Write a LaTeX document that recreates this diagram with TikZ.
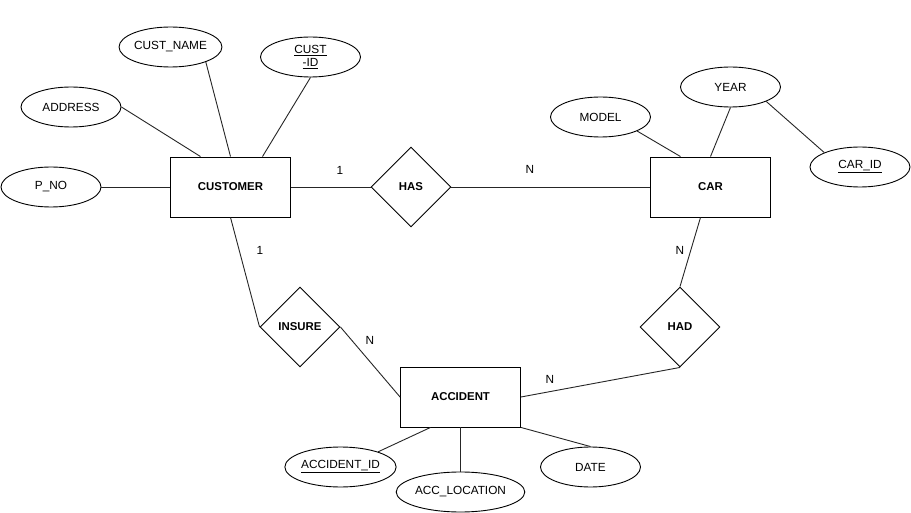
\documentclass[tikz,border=0pt]{standalone}
\usepackage{fontspec}
\setmainfont{Liberation Sans}
\usetikzlibrary{shapes.geometric}
\begin{document}
\begin{tikzpicture}[x=1pt,y=-1pt,
  every node/.style={font=\fontsize{11.8}{13.5}\selectfont},
  entity/.style={draw=black,line width=0.9pt,minimum width=120pt,minimum height=60pt,inner sep=0pt,font=\fontsize{11.4}{13}\selectfont\bfseries},
  rel/.style={draw=black,line width=0.9pt,diamond,minimum width=80pt,minimum height=80pt,inner sep=0pt,aspect=1,font=\fontsize{11.4}{13}\selectfont\bfseries},
  attr/.style={draw=black,line width=0.9pt,ellipse,minimum width=100pt,minimum height=40pt,inner sep=0pt},
  conn/.style={draw=black!85,line width=0.9pt},
  card/.style={inner sep=0pt}]
\fill[white] (0,0) rectangle (911,513);
\useasboundingbox (0,0) rectangle (911,513);
% entities
\node[entity] (cust) at (230.5,187) {CUSTOMER};
\node[entity] (car) at (710.5,187) {CAR};
\node[entity] (acc) at (460.5,397) {ACCIDENT};
% relationships
\node[rel] (has) at (411,187) {HAS};
\node[rel] (ins) at (300,327) {INSURE};
\node[rel] (had) at (680,327) {HAD};
% attributes
\node[attr] (pno) at (51,187) {P\_NO};
\node[attr] (addr) at (71,107) {ADDRESS};
\node[attr] (cname) at (170.5,47) {CUST\_NAME};
\node[attr,align=center,font=\fontsize{11.8}{13.5}\selectfont] (cid) at (310.5,57) {\underline{CUST}\\\underline{-ID}};
\node[attr] (model) at (600.5,117) {MODEL};
\node[attr] (year) at (730.5,87) {YEAR};
\node[attr] (carid) at (860,167) {\underline{CAR\_ID}};
\node[attr] (accid) at (340.5,467) {\underline{ACCIDENT\_ID}};
\node[attr] (aloc) at (460.5,492) {ACC\_LOCATION};
\node[attr] (date) at (590.5,467) {DATE};
% attribute connectors
\draw[conn] (pno.east) -- (cust.west);
\draw[conn] (addr.east) -- ([xshift=-30pt]cust.north);
\draw[conn] (cname.-23) -- (cust.north);
\draw[conn] (cid.south) -- ([xshift=32pt]cust.north);
\draw[conn] (model.-21) -- ([xshift=-30pt]car.north);
\draw[conn] (year.south) -- (car.north);
\draw[conn] (year.-22) -- (carid.158);
\draw[conn] (accid.22) -- ([xshift=-30pt]acc.south);
\draw[conn] (acc.south) -- (aloc.north);
\draw[conn] (acc.south east) -- (date.north);
% relationship connectors
\draw[conn] (cust.east) -- (has.west);
\draw[conn] (has.east) -- (car.west);
\draw[conn] ([xshift=-10pt]car.south) -- (had.north);
\draw[conn] (had.south) -- (acc.east);
\draw[conn] (cust.south) -- (ins.west);
\draw[conn] (ins.east) -- (acc.west);
% cardinalities
\node[card] (c1) at (340,170) {1};
\node[card] (c2) at (530,169) {N};
\node[card] (c3) at (680,250) {N};
\node[card] (c4) at (550,379) {N};
\node[card] (c5) at (260,250) {1};
\node[card] (c6) at (370,340) {N};
\end{tikzpicture}
\end{document}
